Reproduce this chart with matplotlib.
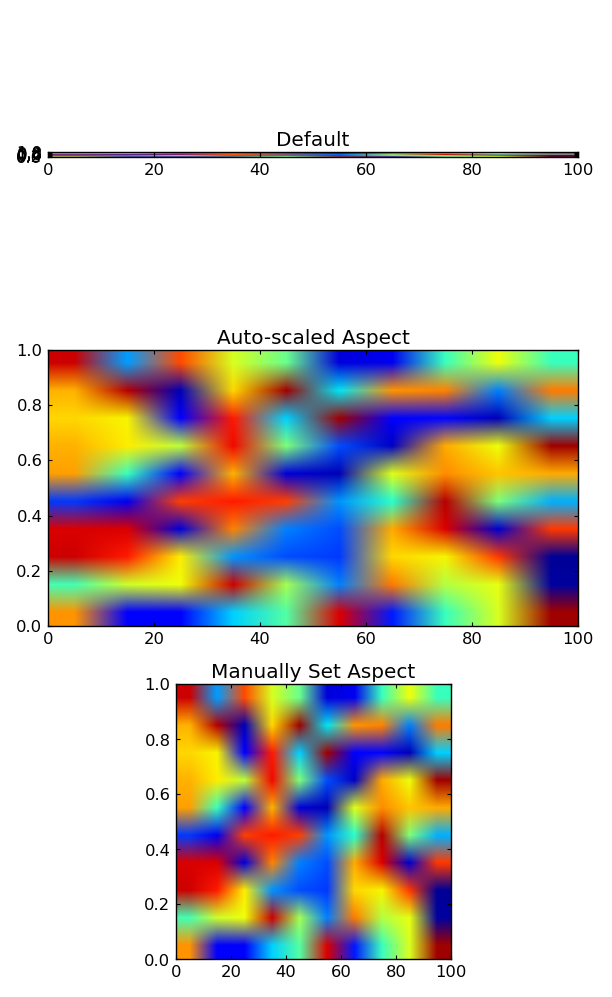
import numpy as np
import matplotlib
matplotlib.use("Agg")
import matplotlib.pyplot as plt

FIG_W, FIG_H = 612, 997

# cell values, top row first, columns left to right
row_0 = [0.93, 0.28, 0.83, 0.61, 0.48, 0.08, 0.10, 0.42, 0.64, 0.42]
row_1 = [0.72, 0.95, 0.05, 0.68, 0.97, 0.35, 0.75, 0.77, 0.25, 0.78]
row_2 = [0.68, 0.65, 0.12, 0.88, 0.33, 0.97, 0.12, 0.13, 0.05, 0.33]
row_3 = [0.72, 0.66, 0.58, 0.90, 0.50, 0.20, 0.06, 0.73, 0.64, 0.97]
row_4 = [0.74, 0.42, 0.12, 0.72, 0.08, 0.05, 0.62, 0.76, 0.70, 0.73]
row_5 = [0.18, 0.10, 0.84, 0.88, 0.84, 0.27, 0.40, 0.95, 0.50, 0.30]
row_6 = [0.92, 0.92, 0.08, 0.77, 0.25, 0.20, 0.73, 0.92, 0.07, 0.85]
row_7 = [0.93, 0.88, 0.66, 0.27, 0.20, 0.18, 0.68, 0.65, 0.85, 0.02]
row_8 = [0.43, 0.60, 0.64, 0.93, 0.55, 0.25, 0.78, 0.57, 0.63, 0.03]
row_9 = [0.75, 0.12, 0.12, 0.33, 0.45, 0.92, 0.15, 0.42, 0.61, 0.97]

y_ticks = [0.0, 0.2, 0.4, 0.6, 0.8, 1.0]
titles = ["Default", "Auto-scaled Aspect", "Manually Set Aspect"]
aspects = ["equal", "auto", 100]

# axes boxes in pixels: left, top, right, bottom
boxes = [(48, 60, 578, 249), (48, 350, 578, 626), (176, 684, 451, 960)]

plt.rcParams.update({
    "font.size": 11.8,
    "axes.titlesize": 14.4,
    "axes.titlepad": 4.5,
    "axes.linewidth": 1.0,
    "xtick.direction": "in",
    "ytick.direction": "in",
    "xtick.top": True,
    "ytick.right": True,
    "xtick.major.size": 3,
    "ytick.major.size": 3,
    "xtick.major.pad": 4,
    "ytick.major.pad": 4,
})


def main():
    data = np.array([row_0, row_1, row_2, row_3, row_4,
                     row_5, row_6, row_7, row_8, row_9])

    fig = plt.figure(figsize=(FIG_W / 100, FIG_H / 100), dpi=100)
    for box, title, aspect in zip(boxes, titles, aspects):
        left, top, right, bottom = box
        rect = [left / FIG_W, 1 - bottom / FIG_H,
                (right - left) / FIG_W, (bottom - top) / FIG_H]
        ax = fig.add_axes(rect)
        ax.imshow(data, cmap="jet", vmin=0, vmax=1, extent=[0, 100, 0, 1],
                  interpolation="bilinear", interpolation_stage="rgba",
                  aspect=aspect)
        ax.set_yticks(y_ticks)
        ax.set_title(title)
    fig.savefig("out.png", dpi=100)


if __name__ == "__main__":
    main()
